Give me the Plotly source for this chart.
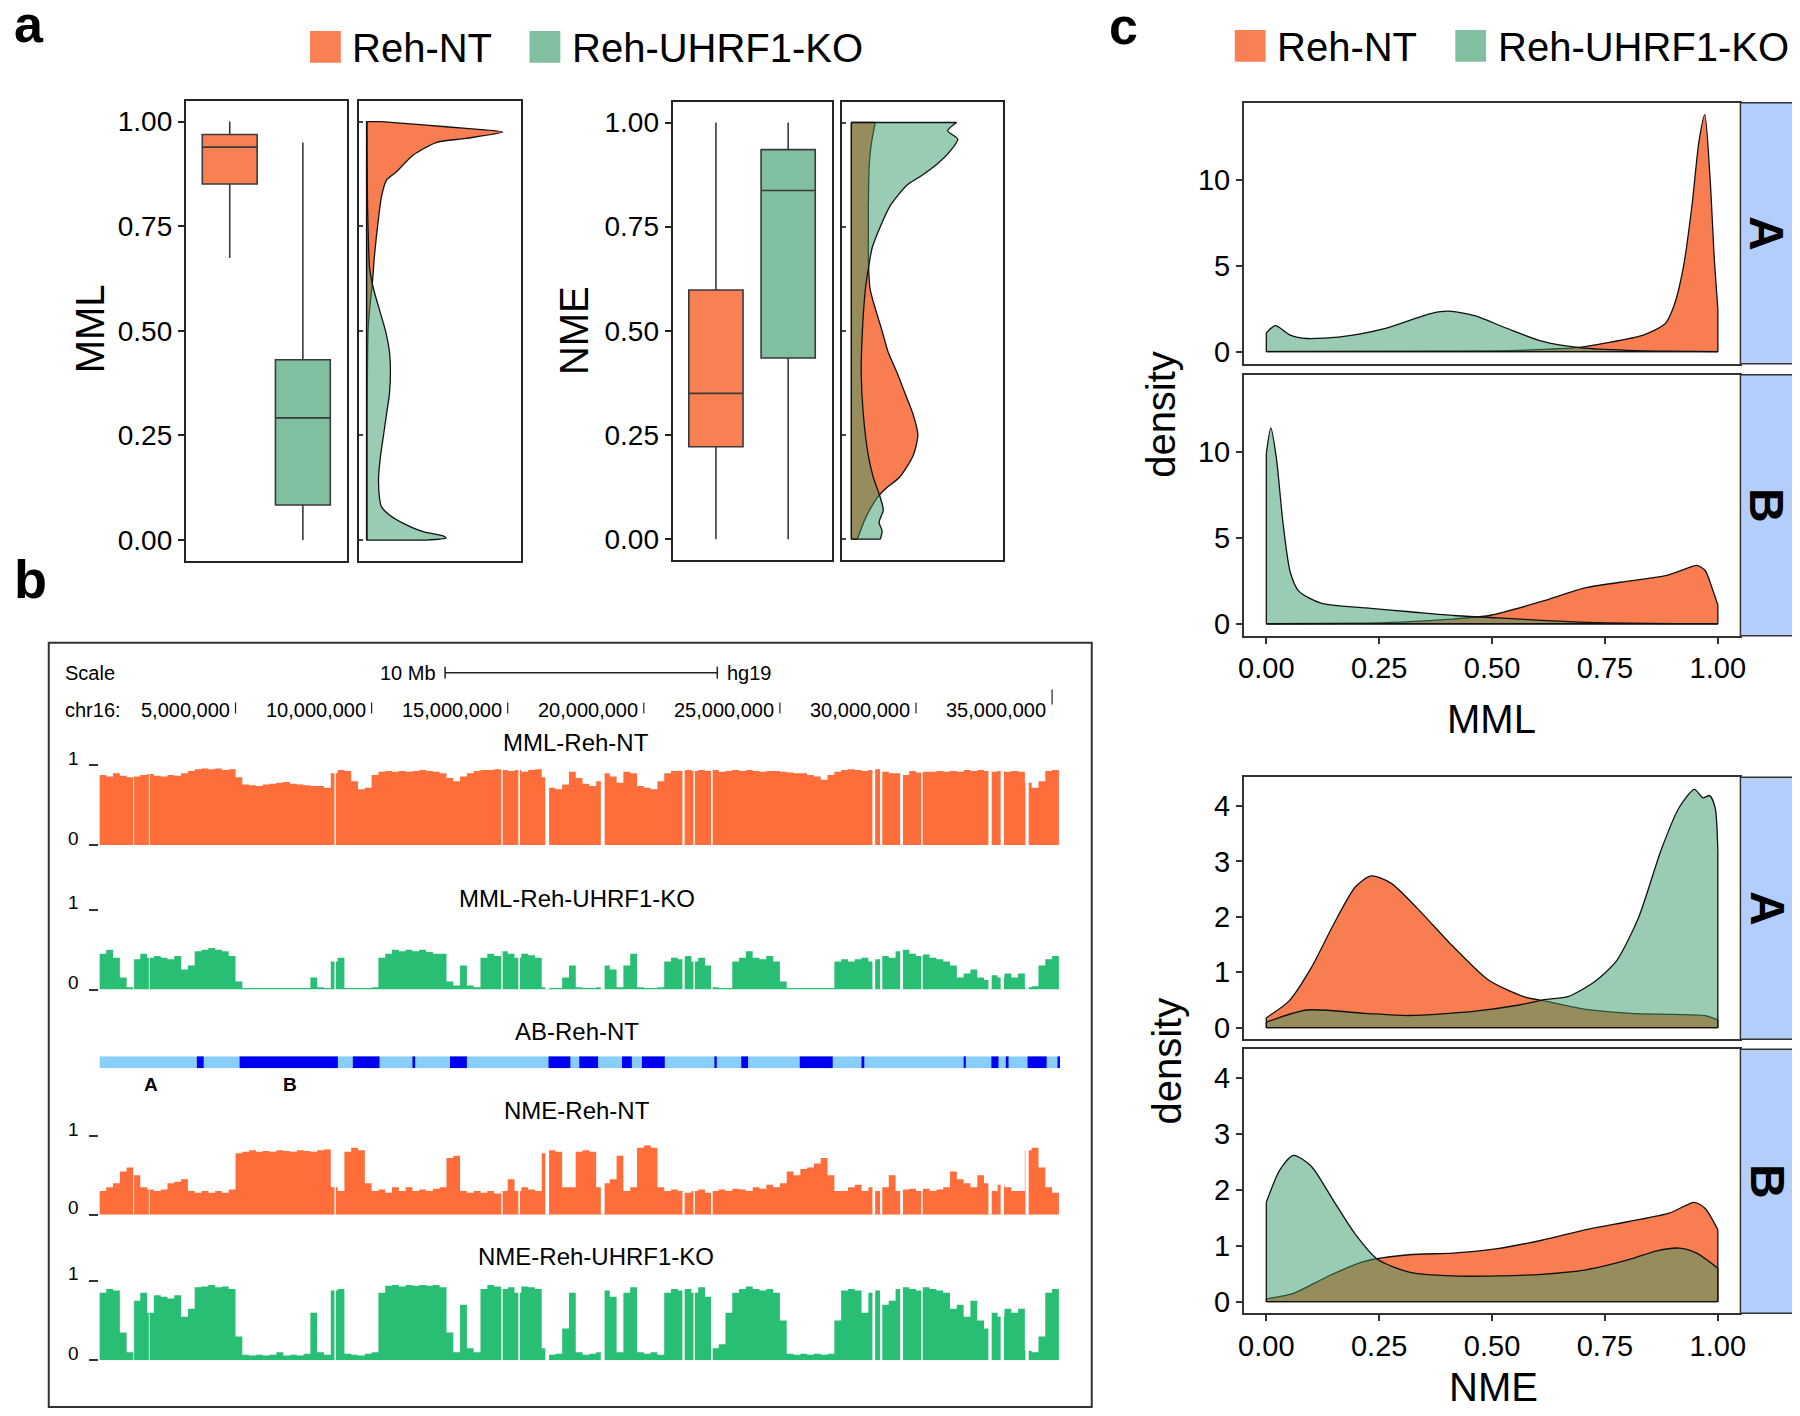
import plotly.graph_objects as go

W, H = 1800, 1416
OFF = 8  # page body margin (px) in front of the figure
FONT = "Liberation Sans, Arial, Helvetica, sans-serif"

# ---------------- colours ----------------
BOX_FILL = ["#F98052", "#80BFA0"]
DENS_FILL = ["rgba(248,126,82,1)", "rgba(51,153,102,0.5)"]
TRACK_COLORS = {"NT": "#FE6D3A", "KO": "#28BE74"}
AB_LIGHT, AB_DARK = "#87CEFA", "#0000F0"
STRIP = "#B3CEFB"

GROUPS = ["Reh-NT", "Reh-UHRF1-KO"]
BOX_POS = [1, 2]

# ---------------- panel a: box statistics ----------------
MML_LOW = [0.674, 0.0]
MML_Q1 = [0.851, 0.084]
MML_MED = [0.939, 0.292]
MML_Q3 = [0.969, 0.431]
MML_HIGH = [1.0, 0.95]

NME_LOW = [0.0, 0.0]
NME_Q1 = [0.222, 0.435]
NME_MED = [0.350, 0.837]
NME_Q3 = [0.598, 0.935]
NME_HIGH = [1.0, 1.0]

# ---------------- panel a: rotated densities ----------------
A_MML_NT_Y = [0, 0.3, 0.5, 0.55, 0.62, 0.68, 0.77, 0.82, 0.86, 0.88, 0.92, 0.95, 0.96, 0.975, 0.983, 0.992, 1.0]
A_MML_NT_D = [0.04, 0.04, 0.11, 0.22, 0.44, 0.58, 0.88, 1.09, 1.46, 2.19, 3.43, 5.11, 7.3, 10.0, 7.52, 4.16, 1.09]
A_MML_KO_Y = [0, 0.005, 0.01, 0.02, 0.04, 0.06, 0.08, 0.1, 0.15, 0.2, 0.25, 0.3, 0.35, 0.4, 0.45, 0.5,
              0.55, 0.6, 0.65, 0.7, 0.8, 0.9, 1.0]
A_MML_KO_D = [4.38, 5.84, 5.62, 4.16, 2.7, 1.68, 1.09, 0.95, 0.88, 1.02, 1.24, 1.46, 1.68, 1.75, 1.68, 1.39,
              0.95, 0.51, 0.22, 0.15, 0.07, 0.04, 0.02]
A_MML_DENS_RANGE = [-0.58, 11.31]

A_NME_NT_Y = [0, 0.05, 0.1, 0.12, 0.15, 0.2, 0.25, 0.3, 0.35, 0.4, 0.45, 0.5, 0.6, 0.68, 0.75, 0.8, 0.9, 0.95, 1.0]
A_NME_NT_D = [0.2, 0.47, 0.87, 1.13, 1.63, 2.07, 2.23, 2.07, 1.8, 1.53, 1.23, 1.03, 0.63, 0.57, 0.57, 0.57, 0.6,
              0.67, 0.8]
A_NME_KO_Y = [0, 0.02, 0.04, 0.07, 0.1, 0.15, 0.2, 0.3, 0.4, 0.5, 0.6, 0.65, 0.7, 0.75, 0.8, 0.85, 0.87, 0.9,
              0.93, 0.96, 0.98, 1.0]
A_NME_KO_D = [0.97, 1.03, 0.93, 1.07, 0.97, 0.73, 0.57, 0.4, 0.33, 0.37, 0.47, 0.57, 0.7, 0.97, 1.3, 1.87, 2.3,
              2.87, 3.3, 3.57, 3.23, 3.53]
A_NME_DENS_RANGE = [-0.3, 5.1]

# ---------------- panel b: genome browser tracks (0.25 Mb bins) ----------------
BIN_MB = 0.25
VIEW_END_MB = 35.29
MML_NT = [0.88, 0.86, 0.9, 0.87, 0.85, 0.86, 0.88, 0.89, 0.87, 0.86,
          0.88, 0.87, 0.9, 0.93, 0.95, 0.96, 0.95, 0.96, 0.94, 0.95,
          0.85, 0.76, 0.75, 0.74, 0.76, 0.77, 0.78, 0.79, 0.77, 0.76,
          0.75, 0.74, 0.74, 0.72, 0.9, 0.94, 0.93, 0.8, 0.7, 0.72,
          0.88, 0.92, 0.93, 0.92, 0.93, 0.92, 0.93, 0.94, 0.93, 0.92,
          0.9, 0.84, 0.8, 0.86, 0.9, 0.93, 0.94, 0.94, 0.95, 0.94,
          0.93, 0.94, 0.92, 0.94, 0.95, 0.85, 0.72, 0.7, 0.76, 0.92,
          0.84, 0.77, 0.74, 0.8, 0.9, 0.86, 0.78, 0.92, 0.9, 0.74,
          0.72, 0.7, 0.8, 0.9, 0.93, 0.93, 0.94, 0.93, 0.94, 0.93,
          0.94, 0.92, 0.93, 0.94, 0.93, 0.94, 0.93, 0.92, 0.93, 0.93,
          0.92, 0.91, 0.9, 0.9, 0.88, 0.86, 0.82, 0.88, 0.92, 0.94,
          0.95, 0.94, 0.93, 0.94, 0.95, 0.92, 0.9, 0.9, 0.88, 0.93,
          0.91, 0.92, 0.92, 0.93, 0.92, 0.93, 0.92, 0.94, 0.93, 0.94,
          0.93, 0.92, 0.93, 0.92, 0.93, 0.92, 0.78, 0.72, 0.8, 0.93,
          0.94]
MML_KO = [0.45, 0.5, 0.4, 0.15, 0.03, 0.38, 0.45, 0.4, 0.42, 0.4,
          0.38, 0.42, 0.25, 0.3, 0.48, 0.5, 0.52, 0.5, 0.48, 0.42,
          0.1, 0.02, 0.02, 0.02, 0.02, 0.02, 0.02, 0.02, 0.02, 0.02,
          0.02, 0.15, 0.03, 0.02, 0.35, 0.4, 0.02, 0.02, 0.02, 0.02,
          0.03, 0.4, 0.45, 0.5, 0.48, 0.5, 0.48, 0.5, 0.47, 0.45,
          0.45, 0.1, 0.05, 0.3, 0.05, 0.03, 0.4, 0.45, 0.42, 0.48,
          0.45, 0.4, 0.45, 0.43, 0.4, 0.03, 0.02, 0.02, 0.15, 0.3,
          0.03, 0.02, 0.02, 0.03, 0.3, 0.25, 0.03, 0.3, 0.45, 0.03,
          0.02, 0.02, 0.03, 0.35, 0.4, 0.38, 0.42, 0.35, 0.4, 0.3,
          0.03, 0.02, 0.02, 0.35, 0.4, 0.48, 0.4, 0.38, 0.42, 0.35,
          0.1, 0.02, 0.02, 0.02, 0.02, 0.02, 0.02, 0.02, 0.35, 0.38,
          0.35, 0.38, 0.4, 0.35, 0.38, 0.42, 0.4, 0.48, 0.5, 0.45,
          0.42, 0.44, 0.4, 0.38, 0.35, 0.3, 0.15, 0.2, 0.25, 0.15,
          0.12, 0.18, 0.15, 0.2, 0.15, 0.2, 0.03, 0.04, 0.3, 0.38,
          0.42]
NME_NT = [0.3, 0.35, 0.4, 0.55, 0.6, 0.5, 0.35, 0.32, 0.3, 0.32,
          0.4, 0.42, 0.45, 0.3, 0.28, 0.3, 0.28, 0.3, 0.28, 0.32,
          0.78, 0.8, 0.82, 0.8, 0.81, 0.8, 0.82, 0.81, 0.8, 0.82,
          0.81, 0.8, 0.82, 0.83, 0.35, 0.3, 0.8, 0.85, 0.82, 0.4,
          0.3, 0.32, 0.28, 0.35, 0.3, 0.35, 0.3, 0.32, 0.3, 0.33,
          0.35, 0.72, 0.75, 0.3, 0.28, 0.3, 0.28, 0.3, 0.27, 0.3,
          0.45, 0.3, 0.35, 0.32, 0.3, 0.78, 0.82, 0.8, 0.35, 0.35,
          0.8, 0.82, 0.8, 0.35, 0.4, 0.45, 0.75, 0.3, 0.35, 0.85,
          0.88, 0.85, 0.35, 0.3, 0.32, 0.3, 0.28, 0.3, 0.32, 0.28,
          0.3, 0.32, 0.3, 0.33, 0.32, 0.3, 0.35, 0.33, 0.38, 0.35,
          0.4, 0.55, 0.5, 0.58, 0.6, 0.65, 0.72, 0.5, 0.3, 0.3,
          0.35, 0.38, 0.3, 0.35, 0.3, 0.35, 0.5, 0.3, 0.32, 0.33,
          0.3, 0.33, 0.3, 0.32, 0.35, 0.55, 0.45, 0.4, 0.35, 0.5,
          0.4, 0.3, 0.38, 0.35, 0.3, 0.3, 0.82, 0.85, 0.6, 0.35,
          0.28]
NME_KO = [0.85, 0.9, 0.88, 0.35, 0.1, 0.75, 0.85, 0.6, 0.82, 0.8,
          0.78, 0.82, 0.55, 0.65, 0.92, 0.93, 0.95, 0.92, 0.93, 0.9,
          0.3, 0.07, 0.06, 0.07, 0.06, 0.07, 0.1, 0.06, 0.07, 0.06,
          0.08, 0.6, 0.1, 0.07, 0.88, 0.9, 0.08, 0.07, 0.06, 0.08,
          0.1, 0.85, 0.94, 0.95, 0.93, 0.95, 0.94, 0.95, 0.94, 0.95,
          0.92, 0.35, 0.1, 0.7, 0.15, 0.1, 0.9, 0.95, 0.93, 0.9,
          0.92, 0.85, 0.93, 0.92, 0.9, 0.15, 0.07, 0.08, 0.4, 0.85,
          0.1, 0.07, 0.08, 0.1, 0.88, 0.8, 0.1, 0.85, 0.92, 0.1,
          0.08, 0.1, 0.07, 0.85, 0.9, 0.88, 0.9, 0.85, 0.92, 0.8,
          0.15, 0.2, 0.6, 0.85, 0.9, 0.93, 0.9, 0.88, 0.9, 0.85,
          0.5, 0.08, 0.07, 0.08, 0.07, 0.08, 0.07, 0.08, 0.5, 0.88,
          0.9, 0.88, 0.6, 0.85, 0.88, 0.7, 0.75, 0.9, 0.92, 0.9,
          0.88, 0.92, 0.9, 0.88, 0.85, 0.65, 0.7, 0.55, 0.75, 0.5,
          0.4, 0.6, 0.55, 0.65, 0.6, 0.65, 0.12, 0.1, 0.3, 0.85,
          0.9]
# regions without data (white gaps), Mb centre and width
GAP_MB = [1.26, 1.83, 8.66, 14.79, 15.42, 16.45, 18.49, 21.46, 21.85, 22.5, 28.45, 28.72, 29.47, 30.22,
          32.72, 33.17, 34.08]
GAP_W = [0.03, 0.03, 0.05, 0.05, 0.06, 0.14, 0.14, 0.08, 0.05, 0.06, 0.1, 0.08, 0.1, 0.05, 0.12, 0.12, 0.12]
# B compartments in the AB track
B_START = [3.58, 5.15, 9.31, 11.5, 12.88, 16.5, 17.63, 19.2, 19.93, 22.63, 23.58, 25.73, 28.0, 31.75, 32.77,
           33.3, 34.1, 35.2]
B_END = [3.83, 8.76, 10.29, 11.6, 13.5, 17.3, 18.32, 19.56, 20.77, 22.68, 23.83, 26.94, 28.1, 31.83, 33.03,
         33.4, 34.8, 35.29]
AB_LABELS = ["A", "B"]
AB_LABEL_MB = [1.9, 7.0]
CHR_TICKS_MB = [5, 10, 15, 20, 25, 30, 35]
SCALE_START_MB, SCALE_LEN_MB = 12.7, 10

# ---------------- panel c: densities by compartment ----------------
C_MML_A_NT_X = [0, 0.5, 0.6, 0.698, 0.75, 0.835, 0.884, 0.904, 0.924, 0.943, 0.958, 0.971, 0.983, 0.992, 1.0]
C_MML_A_NT_D = [0.02, 0.05, 0.12, 0.27, 0.5, 0.97, 1.65, 2.76, 4.97, 8.57, 12.2, 13.8, 10.0, 5.5, 2.5]
C_MML_A_KO_X = [0, 0.02, 0.053, 0.09, 0.168, 0.266, 0.364, 0.404, 0.463, 0.531, 0.61, 0.698, 0.8, 0.9, 1.0]
C_MML_A_KO_D = [1.1, 1.52, 0.97, 0.77, 0.88, 1.38, 2.22, 2.36, 2.08, 1.38, 0.61, 0.22, 0.08, 0.03, 0.01]
C_MML_B_NT_X = [0, 0.2, 0.3, 0.4, 0.494, 0.61, 0.708, 0.806, 0.884, 0.933, 0.953, 0.972, 0.987, 1.0]
C_MML_B_NT_D = [0.0, 0.03, 0.1, 0.25, 0.48, 1.3, 2.1, 2.5, 2.8, 3.24, 3.4, 3.1, 2.1, 1.1]
C_MML_B_KO_X = [0, 0.01, 0.022, 0.037, 0.053, 0.072, 0.121, 0.22, 0.318, 0.416, 0.514, 0.61, 0.708, 0.8, 0.9, 1.0]
C_MML_B_KO_D = [9.9, 11.4, 9.7, 5.85, 3.0, 1.9, 1.2, 0.92, 0.7, 0.48, 0.34, 0.2, 0.08, 0.03, 0.01, 0.01]

C_NME_A_NT_X = [0, 0.05, 0.1, 0.148, 0.197, 0.232, 0.276, 0.335, 0.413, 0.492, 0.57, 0.619, 0.708, 0.806, 0.904,
                0.972, 1.0]
C_NME_A_NT_D = [0.18, 0.48, 1.09, 1.85, 2.54, 2.74, 2.61, 2.15, 1.47, 0.86, 0.56, 0.48, 0.33, 0.26, 0.24, 0.22,
                0.14]
C_NME_A_KO_X = [0, 0.09, 0.217, 0.316, 0.463, 0.56, 0.619, 0.668, 0.727, 0.776, 0.825, 0.874, 0.914, 0.948,
                0.967, 0.982, 0.994, 1.0]
C_NME_A_KO_D = [0.1, 0.32, 0.26, 0.22, 0.3, 0.41, 0.51, 0.56, 0.83, 1.21, 2.0, 3.2, 3.97, 4.3, 4.15, 4.19, 3.97,
                3.2]
C_NME_B_NT_X = [0, 0.06, 0.138, 0.217, 0.316, 0.413, 0.512, 0.61, 0.708, 0.806, 0.894, 0.948, 0.972, 1.0]
C_NME_B_NT_D = [0.05, 0.15, 0.46, 0.72, 0.84, 0.87, 0.95, 1.1, 1.29, 1.44, 1.59, 1.78, 1.67, 1.29]
C_NME_B_KO_X = [0, 0.03, 0.06, 0.099, 0.148, 0.197, 0.246, 0.316, 0.413, 0.512, 0.61, 0.708, 0.806, 0.865, 0.914,
                0.953, 1.0]
C_NME_B_KO_D = [1.78, 2.36, 2.62, 2.43, 1.82, 1.21, 0.76, 0.53, 0.46, 0.46, 0.49, 0.57, 0.76, 0.91, 0.96, 0.87,
                0.6]
TICKS01 = [0, 0.25, 0.5, 0.75, 1.0]

# ======================================================================
fig = go.Figure()
layout = {}
annotations = []
shapes = []


def fx(px):  # page x (px) -> paper fraction
    return (px - OFF) / W


def fy(py):  # page y (px from top) -> paper fraction
    return 1 - (py - OFF) / H


def ax_ids(n):
    return ("x" if n == 1 else f"x{n}"), ("y" if n == 1 else f"y{n}")


def add_axes(n, xpx, ypx, xcfg, ycfg):
    xr, yr = ax_ids(n)
    base = dict(showgrid=False, zeroline=False, fixedrange=True)
    layout["xaxis" if n == 1 else f"xaxis{n}"] = dict(base, domain=[fx(xpx[0]), fx(xpx[1])], anchor=yr, **xcfg)
    layout["yaxis" if n == 1 else f"yaxis{n}"] = dict(base, domain=[fy(ypx[1]), fy(ypx[0])], anchor=xr, **ycfg)


def text(t, x, y, size, xanchor="center", yanchor="middle", bold=False, angle=0, xref="paper", yref="paper",
         xshift=0, yshift=0):
    annotations.append(dict(
        text=f"<b>{t}</b>" if bold else t,
        x=fx(x) if xref == "paper" else x, y=fy(y) if yref == "paper" else y,
        xref=xref, yref=yref, xanchor=xanchor, yanchor=yanchor, showarrow=False, textangle=angle,
        font=dict(size=size, color="black", family=FONT), xshift=xshift, yshift=yshift))


def rect_px(x0, y0, x1, y1, fill, lc=None, lw=0):
    shapes.append(dict(type="rect", xref="paper", yref="paper", x0=fx(x0), x1=fx(x1), y0=fy(y1),
                       y1=fy(y0), fillcolor=fill, line=dict(color=lc or fill, width=lw), layer="above"))


def density(n, xs, ys, fill, horizontal=False):
    xr, yr = ax_ids(n)
    common = dict(xaxis=xr, yaxis=yr, showlegend=False, hoverinfo="skip", mode="lines")
    fig.add_trace(go.Scatter(x=xs, y=ys, fill="tozerox" if horizontal else "tozeroy", fillcolor=fill,
                             line=dict(width=0, shape="spline", smoothing=0.7), **common))
    fig.add_trace(go.Scatter(x=xs, y=ys, line=dict(color="#111", width=1.3, shape="spline", smoothing=0.7),
                             **common))
    if horizontal:
        ex = [0, xs[0], None, 0, xs[-1], None, 0, 0]
        ey = [ys[0], ys[0], None, ys[-1], ys[-1], None, ys[0], ys[-1]]
    else:
        ex = [xs[0], xs[0], None, xs[-1], xs[-1], None, xs[0], xs[-1]]
        ey = [0, ys[0], None, 0, ys[-1], None, 0, 0]
    fig.add_trace(go.Scatter(x=ex, y=ey, line=dict(color="#111", width=1.3), **common))


# ---------------- panel a ----------------
FRAME_A = dict(showline=True, mirror=True, linewidth=2, linecolor="#222")
YTICK_A = dict(range=[-0.05, 1.05], tickvals=TICKS01, tickformat=".2f", ticks="outside", ticklen=6,
               tickwidth=2, tickcolor="#222", tickfont=dict(size=28, color="black", family=FONT))
YTICK_AD = dict(range=[-0.05, 1.05], tickvals=TICKS01, ticks="inside", ticklen=4, tickwidth=1.5,
                tickcolor="#444", showticklabels=False)
add_axes(1, (181, 343), (101, 563), dict(FRAME_A, range=[0.4, 2.6], showticklabels=False, ticks=""),
         dict(FRAME_A, **YTICK_A))
add_axes(2, (355, 518), (101, 563), dict(FRAME_A, range=A_MML_DENS_RANGE, showticklabels=False, ticks=""),
         dict(FRAME_A, **YTICK_AD))
add_axes(3, (671, 831), (102, 562), dict(FRAME_A, range=[0.4, 2.6], showticklabels=False, ticks=""),
         dict(FRAME_A, **YTICK_A))
add_axes(4, (842, 1004), (102, 562), dict(FRAME_A, range=A_NME_DENS_RANGE, showticklabels=False, ticks=""),
         dict(FRAME_A, **YTICK_AD))

for n, (lo, q1, med, q3, hi) in [(1, (MML_LOW, MML_Q1, MML_MED, MML_Q3, MML_HIGH)),
                                 (3, (NME_LOW, NME_Q1, NME_MED, NME_Q3, NME_HIGH))]:
    xr, yr = ax_ids(n)
    for i in range(2):
        fig.add_trace(go.Box(x=[BOX_POS[i]], lowerfence=[lo[i]], q1=[q1[i]], median=[med[i]], q3=[q3[i]],
                             upperfence=[hi[i]], fillcolor=BOX_FILL[i], line=dict(color="#3a3a3a", width=1.6),
                             width=0.75, whiskerwidth=0, boxpoints=False, xaxis=xr, yaxis=yr,
                             showlegend=False, hoverinfo="skip"))

density(2, A_MML_NT_D, A_MML_NT_Y, DENS_FILL[0], horizontal=True)
density(2, A_MML_KO_D, A_MML_KO_Y, DENS_FILL[1], horizontal=True)
density(4, A_NME_NT_D, A_NME_NT_Y, DENS_FILL[0], horizontal=True)
density(4, A_NME_KO_D, A_NME_KO_Y, DENS_FILL[1], horizontal=True)

text("MML", 84, 330, 40, angle=-90)
text("NME", 572, 332, 40, angle=-90)

# legends
for (sq_x, tx_x), color, label in zip([(306, 346), (527, 568)], BOX_FILL, GROUPS):
    rect_px(sq_x, 31, sq_x + 31, 63, color)
    text(label, tx_x, 48, 40, xanchor="left")
for (sq_x, tx_x), color, label in zip([(1237, 1277), (1459, 1500)], BOX_FILL, GROUPS):
    rect_px(sq_x, 30, sq_x + 31, 62, color)
    text(label, tx_x, 47, 40, xanchor="left")

# panel letters
text("a", 6, 24, 52, xanchor="left", bold=True)
text("b", 6, 581, 54, xanchor="left", bold=True)
text("c", 1108, 26, 52, xanchor="left", bold=True)

# ---------------- panel b ----------------
TRACK_X = dict(range=[0, VIEW_END_MB], visible=False)
TRACK_Y = dict(range=[0, 1], tickvals=[0, 1], ticks="outside", ticklen=9, tickwidth=1.5, tickcolor="#333",
               showticklabels=False, showline=False)
tracks = [(5, (768, 848), MML_NT, "NT", "MML-Reh-NT", 574, 745),
          (6, (913, 993), MML_KO, "KO", "MML-Reh-UHRF1-KO", 575, 902),
          (8, (1140, 1219), NME_NT, "NT", "NME-Reh-NT", 575, 1114),
          (9, (1285.5, 1365), NME_KO, "KO", "NME-Reh-UHRF1-KO", 594, 1261)]
gap_x, gap_y = [], []
for g, w in zip(GAP_MB, GAP_W):
    gap_x += [g - w / 2, g - w / 2, g + w / 2, g + w / 2, g - w / 2, None]
    gap_y += [0, 1, 1, 0, 0, None]
for n, ypx, vals, key, title, tx, ty in tracks:
    add_axes(n, (94, 1061), ypx, TRACK_X, TRACK_Y)
    xr, yr = ax_ids(n)
    edges = [BIN_MB * i for i in range(len(vals) + 1)]
    fig.add_trace(go.Scatter(x=edges, y=list(vals) + [vals[-1]], mode="lines", fill="tozeroy",
                             fillcolor=TRACK_COLORS[key], line=dict(width=0, shape="hv", color=TRACK_COLORS[key]),
                             xaxis=xr, yaxis=yr, showlegend=False, hoverinfo="skip"))
    fig.add_trace(go.Scatter(x=gap_x, y=gap_y, mode="lines", fill="toself", fillcolor="white",
                             line=dict(width=0, color="white"),
                             xaxis=xr, yaxis=yr, showlegend=False, hoverinfo="skip"))
    text(title, tx, ty, 24)
    text("1", 68, 1, 19, yref=yr, yshift=7)
    text("0", 68, 0, 19, yref=yr, yshift=7)

# AB track
add_axes(7, (94, 1061), (1060, 1072), TRACK_X, dict(range=[0, 1], visible=False))
fig.add_trace(go.Bar(x=[VIEW_END_MB / 2], y=[1], width=[VIEW_END_MB], marker=dict(color=AB_LIGHT, line=dict(width=0)),
                     xaxis="x7", yaxis="y7", showlegend=False, hoverinfo="skip"))
fig.add_trace(go.Bar(x=[(s + e) / 2 for s, e in zip(B_START, B_END)], y=[1] * len(B_START),
                     width=[e - s for s, e in zip(B_START, B_END)], marker=dict(color=AB_DARK, line=dict(width=0)),
                     xaxis="x7", yaxis="y7", showlegend=False, hoverinfo="skip"))
text("AB-Reh-NT", 575, 1035, 24)
for lab, mb in zip(AB_LABELS, AB_LABEL_MB):
    text(lab, mb, 1088, 19, bold=True, xref="x7")

# ruler
text("Scale", 57, 675, 20, xanchor="left")
text("10 Mb", 435, 675, 20, xanchor="right")
text("hg19", 724, 675, 20, xanchor="left")
text("chr16:", 57, 712, 20, xanchor="left")
shapes.append(dict(type="line", xref="x5", yref="paper", x0=SCALE_START_MB, x1=SCALE_START_MB + SCALE_LEN_MB,
                   y0=fy(675), y1=fy(675), line=dict(color="#222", width=1.5)))
for mb in (SCALE_START_MB, SCALE_START_MB + SCALE_LEN_MB):
    shapes.append(dict(type="line", xref="x5", yref="paper", x0=mb, x1=mb, y0=fy(681), y1=fy(669),
                       line=dict(color="#222", width=1.5)))
for k, mb in enumerate(CHR_TICKS_MB):
    text(f"{int(mb * 1_000_000):,}", mb, 712, 20, xanchor="right", xref="x5", xshift=-4)
    top, bot = (692, 707) if k == len(CHR_TICKS_MB) - 1 else (705, 716)
    shapes.append(dict(type="line", xref="x5", yref="paper", x0=mb, x1=mb, y0=fy(bot), y1=fy(top),
                       line=dict(color="#222", width=1.2)))
# panel b frame
shapes.append(dict(type="rect", xref="paper", yref="paper", x0=fx(43), x1=fx(1093), y0=fy(1412),
                   y1=fy(645), line=dict(color="#333", width=2), fillcolor="rgba(0,0,0,0)"))

# ---------------- panel c ----------------
FRAME_C = dict(showline=True, mirror=True, linewidth=1.5, linecolor="#333")
TF_C = dict(size=29, color="black", family=FONT)
XC_TOP = dict(FRAME_C, range=[-0.05, 1.05], showticklabels=False, ticks="")
XC_BOT = dict(FRAME_C, range=[-0.05, 1.05], tickvals=TICKS01, tickformat=".2f", ticks="outside", ticklen=6,
              tickwidth=1.5, tickcolor="#333", tickfont=TF_C)
YC_MML = dict(FRAME_C, range=[-0.7, 14.5], tickvals=[0, 5, 10], ticks="outside", ticklen=6, tickwidth=1.5,
              tickcolor="#333", tickfont=TF_C)
YC_NME = dict(FRAME_C, range=[-0.21, 4.52], tickvals=[0, 1, 2, 3, 4], ticks="outside", ticklen=6, tickwidth=1.5,
              tickcolor="#333", tickfont=TF_C)
add_axes(10, (1246, 1746), (103, 365), XC_TOP, YC_MML)
add_axes(11, (1246, 1746), (376, 638), XC_BOT, YC_MML)
add_axes(12, (1246, 1746), (780, 1043), XC_TOP, YC_NME)
add_axes(13, (1246, 1746), (1053, 1318), XC_BOT, YC_NME)

density(10, C_MML_A_NT_X, C_MML_A_NT_D, DENS_FILL[0])
density(10, C_MML_A_KO_X, C_MML_A_KO_D, DENS_FILL[1])
density(11, C_MML_B_NT_X, C_MML_B_NT_D, DENS_FILL[0])
density(11, C_MML_B_KO_X, C_MML_B_KO_D, DENS_FILL[1])
density(12, C_NME_A_NT_X, C_NME_A_NT_D, DENS_FILL[0])
density(12, C_NME_A_KO_X, C_NME_A_KO_D, DENS_FILL[1])
density(13, C_NME_B_NT_X, C_NME_B_NT_D, DENS_FILL[0])
density(13, C_NME_B_KO_X, C_NME_B_KO_D, DENS_FILL[1])

for (y0, y1), lab in zip([(103, 365), (376, 638), (780, 1043), (1053, 1318)], ["A", "B", "A", "B"]):
    rect_px(1746, y0, 1800, y1, STRIP, "#333", 1.5)
    text(lab, 1773, (y0 + y1) / 2, 48, bold=True, angle=90)

text("density", 1162, 416, 40, angle=-90)
text("density", 1169, 1065, 40, angle=-90)
text("MML", 1495, 722, 40)
text("NME", 1497, 1392, 40)

fig.update_layout(width=W, height=H, margin=dict(l=0, r=0, t=0, b=0), paper_bgcolor="white",
                  plot_bgcolor="white", barmode="overlay", annotations=annotations, shapes=shapes,
                  font=dict(family=FONT, color="black"), **layout)
fig.write_html("out.html")
